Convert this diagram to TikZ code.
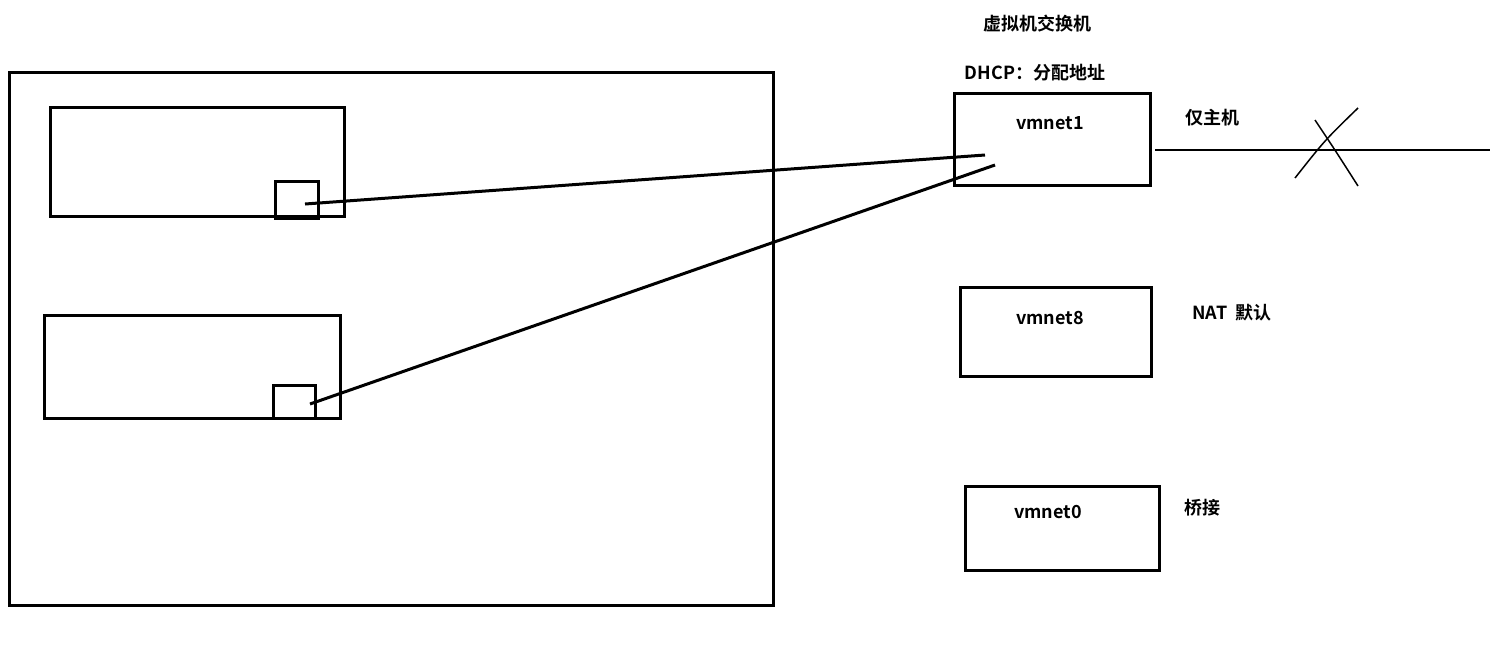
\documentclass[tikz,border=0pt]{standalone}
\usepackage{fontspec}
\setmainfont{Noto Sans CJK SC}[BoldFont={Noto Sans CJK SC Bold}]
\begin{document}
\begin{tikzpicture}[x=1pt,y=-1pt,line width=3pt,
  lbl/.style={font=\bfseries\fontsize{18}{20}\selectfont,inner sep=0pt}]
\useasboundingbox[fill=white] (0,0) rectangle (1499,657);
\draw (9,72) rectangle (773,605);
\draw (50,107) rectangle (344,216);
\draw (275,181) rectangle (318,218);
\draw (44,315) rectangle (340,418);
\draw (273,385) rectangle (315,418);
\coordinate (p1) at (305,204);
\coordinate (p2) at (310,404);
\draw (954,93) rectangle (1150,185);
\coordinate (q1) at (985,155);
\coordinate (q2) at (995,165);
\draw (p1) -- (q1);
\draw (p2) -- (q2);
\draw (960,287) rectangle (1151,376);
\draw (965,486) rectangle (1159,570);
\node[lbl] (t1) at (1050,123) {vmnet1};
\node[lbl] (t8) at (1050,318) {vmnet8};
\node[lbl] (t0) at (1048,512) {vmnet0};
\node[lbl] (sw) at (1037,24) {虚拟机交换机};
\node[lbl] (dh) at (1035,73) {DHCP：分配地址};
\node[lbl] (ho) at (1212,118) {仅主机};
\node[lbl] (na) at (1232,313) {NAT\ \ 默认};
\node[lbl] (br) at (1202,508) {桥接};
\coordinate (l1) at (1155,150);
\coordinate (l2) at (1490,150);
\draw[line width=2.5pt] (l1) -- (l2);
\draw[line width=1.5pt] (1315,120) .. controls (1335,150) .. (1358,186);
\draw[line width=1.5pt] (1358,108) .. controls (1325,140) .. (1295,178);
\end{tikzpicture}
\end{document}
